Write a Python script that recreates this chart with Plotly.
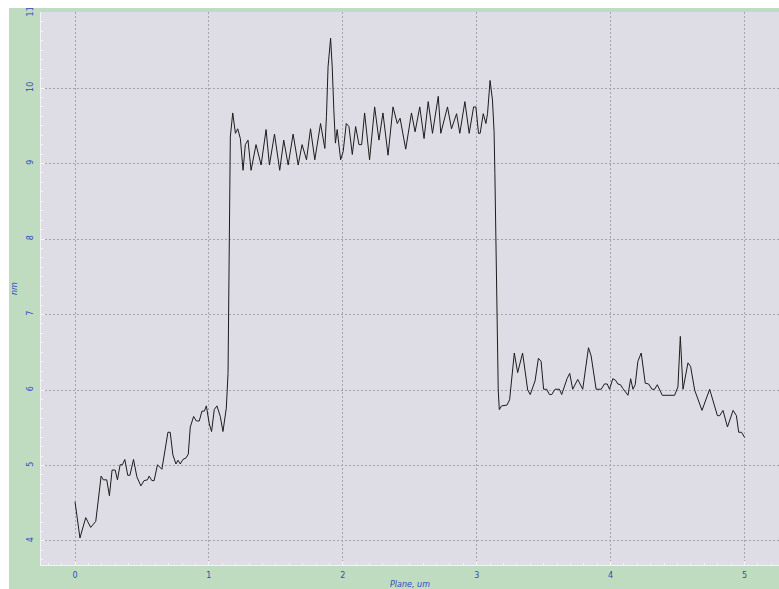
import plotly.graph_objects as go

# Height profile along the scan line (vertices of the trace)
plane_um = [
    0.000, 0.037, 0.080, 0.117, 0.155, 0.195, 0.212, 0.237, 0.257, 0.277,
    0.300, 0.317, 0.337, 0.354, 0.372, 0.394, 0.410, 0.437, 0.462, 0.492,
    0.516, 0.541, 0.554, 0.574, 0.591, 0.616, 0.649, 0.674, 0.694, 0.711,
    0.731, 0.754, 0.769, 0.786, 0.806, 0.829, 0.846, 0.861, 0.886, 0.906,
    0.928, 0.948, 0.966, 0.981, 1.003, 1.020, 1.040, 1.060, 1.085, 1.105,
    1.130, 1.143, 1.160, 1.178, 1.198, 1.215, 1.235, 1.255, 1.272, 1.292,
    1.315, 1.352, 1.390, 1.427, 1.452, 1.490, 1.529, 1.559, 1.592, 1.629,
    1.667, 1.696, 1.729, 1.759, 1.791, 1.834, 1.866, 1.878, 1.890, 1.909,
    1.921, 1.933, 1.945, 1.958, 1.984, 2.003, 2.026, 2.046, 2.071, 2.096,
    2.121, 2.141, 2.163, 2.200, 2.238, 2.270, 2.300, 2.338, 2.375, 2.407,
    2.428, 2.470, 2.513, 2.540, 2.575, 2.607, 2.638, 2.670, 2.713, 2.732,
    2.782, 2.812, 2.850, 2.874, 2.912, 2.944, 2.977, 2.994, 3.014, 3.026,
    3.049, 3.069, 3.081, 3.100, 3.118, 3.130, 3.136, 3.161, 3.169, 3.186,
    3.226, 3.246, 3.281, 3.306, 3.343, 3.381, 3.400, 3.436, 3.461, 3.481,
    3.500, 3.523, 3.543, 3.561, 3.585, 3.618, 3.635, 3.675, 3.695, 3.717,
    3.755, 3.792, 3.835, 3.855, 3.892, 3.930, 3.954, 3.975, 3.992, 4.017,
    4.037, 4.054, 4.074, 4.092, 4.130, 4.150, 4.167, 4.184, 4.204, 4.229,
    4.259, 4.284, 4.309, 4.329, 4.349, 4.386, 4.478, 4.503, 4.521, 4.541,
    4.578, 4.598, 4.628, 4.683, 4.740, 4.798, 4.815, 4.840, 4.873, 4.915,
    4.940, 4.957, 4.978, 5.002,
]
height_nm = [
    4.52, 4.04, 4.31, 4.18, 4.26, 4.86, 4.81, 4.81, 4.60, 4.94,
    4.94, 4.81, 5.01, 5.01, 5.08, 4.87, 4.87, 5.08, 4.85, 4.73,
    4.80, 4.81, 4.86, 4.80, 4.80, 5.01, 4.95, 5.21, 5.44, 5.44,
    5.14, 5.02, 5.07, 5.02, 5.08, 5.10, 5.15, 5.51, 5.65, 5.59,
    5.59, 5.72, 5.72, 5.79, 5.55, 5.45, 5.74, 5.79, 5.65, 5.45,
    5.76, 6.22, 9.35, 9.67, 9.40, 9.46, 9.33, 8.91, 9.25, 9.31,
    8.91, 9.25, 8.98, 9.45, 8.98, 9.39, 8.91, 9.31, 8.98, 9.39,
    8.98, 9.25, 9.05, 9.46, 9.05, 9.53, 9.20, 9.62, 10.28, 10.66,
    10.28, 9.71, 9.27, 9.45, 9.05, 9.16, 9.53, 9.49, 9.12, 9.49,
    9.25, 9.25, 9.67, 9.05, 9.75, 9.31, 9.67, 9.11, 9.75, 9.53,
    9.60, 9.19, 9.67, 9.42, 9.75, 9.33, 9.82, 9.40, 9.89, 9.40,
    9.75, 9.46, 9.66, 9.40, 9.82, 9.40, 9.75, 9.75, 9.40, 9.40,
    9.66, 9.53, 9.66, 10.10, 9.84, 9.42, 8.87, 6.00, 5.74, 5.79,
    5.80, 5.87, 6.49, 6.23, 6.49, 6.00, 5.94, 6.12, 6.42, 6.38,
    6.01, 6.01, 5.94, 5.94, 6.01, 6.01, 5.94, 6.15, 6.22, 6.01,
    6.14, 6.01, 6.56, 6.45, 6.01, 6.01, 6.08, 6.08, 6.01, 6.15,
    6.13, 6.08, 6.07, 6.02, 5.93, 6.15, 6.01, 6.07, 6.38, 6.49,
    6.09, 6.08, 6.01, 6.01, 6.07, 5.93, 5.93, 6.04, 6.71, 6.01,
    6.36, 6.31, 6.00, 5.73, 6.01, 5.66, 5.66, 5.73, 5.51, 5.73,
    5.66, 5.44, 5.44, 5.37,
]

x_ticks = [0, 1, 2, 3, 4, 5]
y_ticks = [4, 5, 6, 7, 8, 9, 10, 11]

label_font = dict(family="DejaVu Sans", size=8, color="#3048c0")
title_font = dict(family="DejaVu Sans", size=8, color="#3048c0")

grid_style = dict(showgrid=True, gridcolor="#a4a4a8", griddash="2px,2px", gridwidth=1)
tick_style = dict(ticks="inside", ticklen=4, tickcolor="#f4f4f4", tickwidth=1)

fig = go.Figure()
fig.add_trace(go.Scatter(
    x=plane_um, y=height_nm, mode="lines",
    line=dict(color="#1c1c1c", width=1),
    showlegend=False, hoverinfo="skip",
))

fig.update_layout(
    width=779, height=589,
    margin=dict(l=41, r=0, t=12, b=24),
    paper_bgcolor="#c0dcc0",
    plot_bgcolor="#dedde5",
    showlegend=False,
    xaxis=dict(
        range=[-0.254, 5.258], tickvals=x_ticks, ticktext=[str(v) for v in x_ticks],
        zeroline=False, showline=True, linecolor="#f4f4f4", linewidth=1,
        minor=dict(dtick=0.1, ticks="inside", ticklen=2, tickcolor="#f4f4f4", showgrid=False),
        tickfont=label_font, ticklabelstandoff=2,
        title=dict(text="<i>Plane, um</i>", font=title_font, standoff=4),
        **grid_style, **tick_style,
    ),
    yaxis=dict(
        range=[3.682, 11.007], tickvals=y_ticks, ticktext=[str(v) for v in y_ticks],
        zeroline=False, showline=True, linecolor="#f4f4f4", linewidth=1,
        minor=dict(dtick=0.125, ticks="inside", ticklen=2, tickcolor="#f4f4f4", showgrid=False),
        tickfont=label_font, tickangle=-90, ticklabelstandoff=4,
        title=dict(text="<i>nm</i>", font=title_font, standoff=6),
        **grid_style, **tick_style,
    ),
    shapes=[
        # thin white frame along the left and top edges of the page
        dict(type="rect", xref="paper", yref="paper",
             x0=-0.06, x1=-0.0434, y0=-0.05, y1=1.03,
             fillcolor="white", line=dict(width=0), layer="above"),
        dict(type="rect", xref="paper", yref="paper",
             x0=-0.06, x1=1.01, y0=1.0072, y1=1.03,
             fillcolor="white", line=dict(width=0), layer="above"),
    ],
)

fig.write_html("out.html")
